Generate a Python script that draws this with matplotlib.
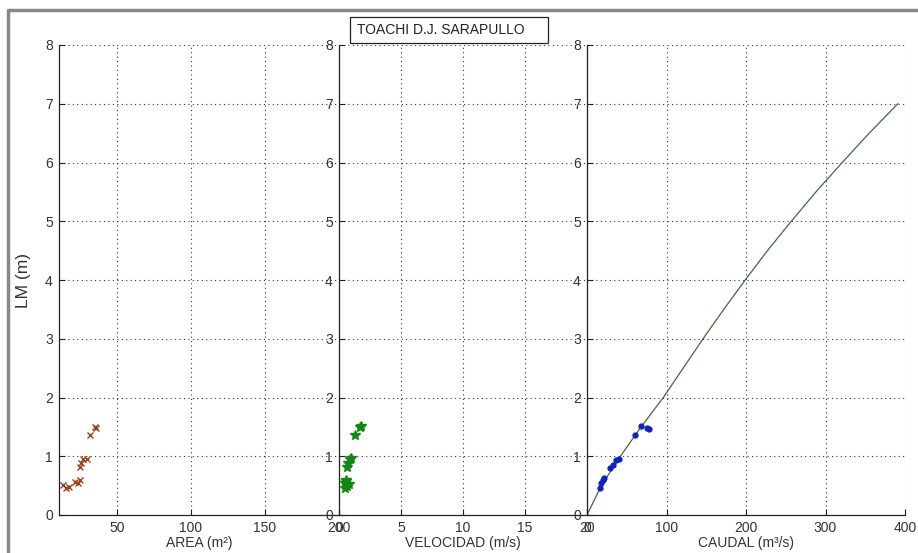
import numpy as np
import matplotlib.pyplot as plt
from matplotlib.lines import Line2D
from matplotlib.patches import Rectangle

plt.rcParams['font.family'] = ['Liberation Sans', 'DejaVu Sans']

# Aforos: nivel (LM), area, velocidad y caudal
lm_area = [0.51, 0.46, 0.48, 0.56, 0.54, 0.60, 0.82, 0.88, 0.95, 0.95, 1.37, 1.50, 1.48]
area = [13.5, 16, 18, 21.6, 24, 25, 25, 26, 27, 30, 32, 35, 36]

lm_vel = [0.54, 0.50, 0.46, 0.58, 0.52, 0.60, 0.82, 0.88, 0.95, 0.97, 1.36, 1.50, 1.52]
velocidad = [0.5, 0.65, 0.45, 0.55, 0.8, 0.6, 0.65, 0.75, 0.9, 0.95, 1.3, 1.7, 1.8]

lm_q = [0.46, 0.54, 0.60, 0.63, 0.80, 0.85, 0.94, 0.95, 1.37, 1.52, 1.48, 1.47]
caudal = [16, 18, 20, 22, 29, 33, 37, 40, 60, 68, 75, 78]

# Curva de descarga
lm_curva = [0, 0.5, 1, 1.5, 2, 2.5, 3, 3.5, 4, 4.5, 5, 5.5, 6, 6.5, 7]
q_curva = [0, 18, 42, 68, 96, 121, 146, 172, 199, 227, 257, 288, 321, 355, 391]

W, H = 918, 553
fig = plt.figure(figsize=(W / 100, H / 100), dpi=100)


def px_axes(x0, x1, y0=45, y1=515):
    return fig.add_axes([x0 / W, 1 - y1 / H, (x1 - x0) / W, (y1 - y0) / H])


def estilo(ax, xlim, xticks, xlabel):
    ax.set_facecolor('none')
    ax.set_xlim(*xlim)
    ax.set_ylim(0, 8)
    ax.set_xticks(xticks)
    ax.set_yticks(range(9))
    for s in ('top', 'right'):
        ax.spines[s].set_visible(False)
    for s in ('left', 'bottom'):
        ax.spines[s].set_linewidth(0.9)
        ax.spines[s].set_color('#222222')
    ax.tick_params(direction='in', length=4, width=0.8, labelsize=10,
                   colors='#222222', labelcolor='#333333')
    ax.tick_params(axis='y', pad=4.5)
    ax.tick_params(axis='x', pad=4)
    ax.grid(True, color='#333333', linestyle=(0, (1, 3)), linewidth=0.8)
    ax.set_axisbelow(True)
    ax.set_xlabel(xlabel, fontsize=10, color='#333333', labelpad=1)


ax1 = px_axes(59, 339)
estilo(ax1, (11, 200), [50, 100, 150, 200], 'AREA (m²)')
ax1.plot(area, lm_area, 'x', color='#a0401a', ms=5, mew=1)
ax1.set_ylabel('LM (m)', fontsize=12.5, color='#333333', labelpad=10)

ax2 = px_axes(339, 587)
estilo(ax2, (0, 20), [0, 5, 10, 15, 20], 'VELOCIDAD (m/s)')
ax2.plot(velocidad, lm_vel, '*', color='#118811', ms=7, mew=1)

ax3 = px_axes(587, 905)
estilo(ax3, (0, 400), [0, 100, 200, 300, 400], 'CAUDAL (m³/s)')
ax3.plot(q_curva, lm_curva, '-', color='#3d6b3d', lw=0.9)
ax3.plot(caudal, lm_q, '.', color='#1020c0', ms=7)

# Titulo en recuadro
fig.add_artist(Rectangle((350 / W, 1 - 43 / H), 198 / W, 26 / H,
                         transform=fig.transFigure, facecolor='white',
                         edgecolor='#222222', lw=0.9))
fig.text(357 / W, 1 - 30 / H, 'TOACHI D.J. SARAPULLO', fontsize=10,
         color='#222222', ha='left', va='center')

# Marco gris de la ventana
fig.add_artist(Line2D([8 / W, 8 / W, 1], [0, 1 - 10 / H, 1 - 10 / H],
                      transform=fig.transFigure, color='#888888', lw=2.5))

fig.savefig('out.png', dpi=100)
